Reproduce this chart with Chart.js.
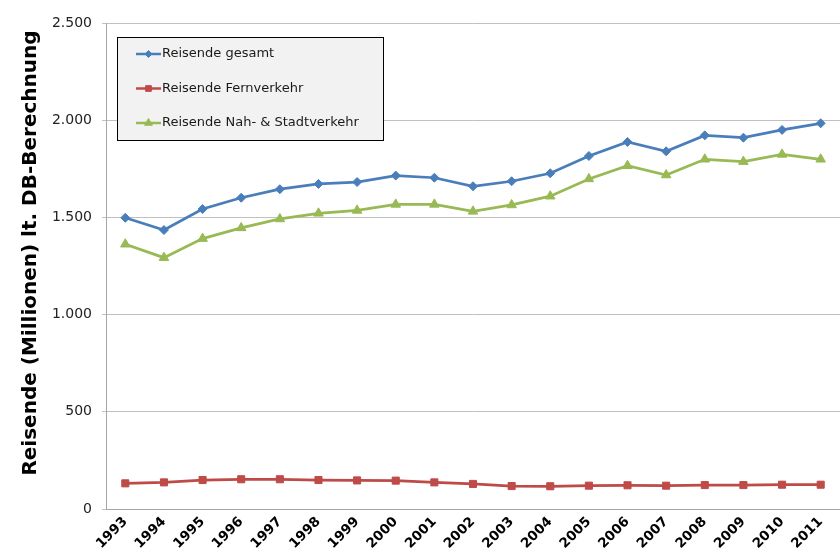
<!DOCTYPE html>
<html>
<head>
<meta charset="utf-8">
<script src="https://cdn.jsdelivr.net/npm/chart.js@4"></script>
<style>
  html, body { margin: 0; padding: 0; background: #fff; }
  #wrap { width: 840px; height: 555px; }
</style>
</head>
<body>
<div id="wrap"><canvas id="chart" width="840" height="555"></canvas></div>
<script>
const YEARS = ['1993','1994','1995','1996','1997','1998','1999','2000','2001','2002',
               '2003','2004','2005','2006','2007','2008','2009','2010','2011'];
const GESAMT = [1498,1435,1543,1601,1645,1672,1682,1715,1704,1660,1686,1727,1816,1888,1840,1922,1910,1950,1984];
const FERN   = [132,137,149,153,153,149,147,146,137,129,118,117,120,122,120,123,123,125,125];
const NAH    = [1362,1293,1391,1446,1492,1521,1536,1567,1567,1531,1564,1609,1698,1766,1718,1799,1787,1824,1799];
const Y_TICKS = [0,500,1000,1500,2000,2500];
const Y_TITLE = 'Reisende (Millionen) lt. DB-Berechnung';

const FONT = 'DejaVu Sans, Verdana, sans-serif';

// german thousands separator
const fmt = v => String(v).replace(/\B(?=(\d{3})+(?!\d))/g, '.');

// legend drawn as a boxed panel inside the plot area, plus the y title
const boxLegend = {
    id: 'boxLegend',
    afterDraw(chart) {
        const ctx = chart.ctx;
        const x = 117, y = 37, w = 266, h = 103;
        ctx.save();
        ctx.fillStyle = '#f2f2f2';
        ctx.fillRect(x, y, w, h);
        ctx.strokeStyle = '#000';
        ctx.lineWidth = 1;
        ctx.strokeRect(x + 0.5, y + 0.5, w, h);
        ctx.font = '13px ' + FONT;
        ctx.textBaseline = 'middle';
        chart.data.datasets.forEach((ds, i) => {
            const cy = 54 + i * 34.5;
            ctx.strokeStyle = ds.borderColor;
            ctx.lineWidth = 2.5;
            ctx.beginPath();
            ctx.moveTo(136, cy); ctx.lineTo(161, cy); ctx.stroke();
            ctx.fillStyle = ds.borderColor;
            ctx.lineWidth = 1;
            Chart.helpers.drawPoint(ctx, {
                pointStyle: ds.pointStyle, radius: ds.pointRadius - 1, rotation: 0, borderWidth: 1
            }, 148.5, cy);
            ctx.fillStyle = '#1a1a1a';
            ctx.fillText(ds.label, 162, cy);
        });

        // y axis title
        ctx.translate(31, 253);
        ctx.rotate(-Math.PI / 2);
        ctx.font = 'bold 20px ' + FONT;
        ctx.textAlign = 'center';
        ctx.fillStyle = '#000';
        ctx.fillText(Y_TITLE, 0, 0);
        ctx.restore();
    }
};

new Chart(document.getElementById('chart'), {
    type: 'line',
    data: {
        labels: YEARS,
        datasets: [
            { label: 'Reisende gesamt', data: GESAMT, borderColor: '#4a7ebb', backgroundColor: '#4a7ebb',
              pointStyle: 'rectRot', pointRadius: 4.5 },
            { label: 'Reisende Fernverkehr', data: FERN, borderColor: '#be4b48', backgroundColor: '#be4b48',
              pointStyle: 'rect', pointRadius: 5 },
            { label: 'Reisende Nah- & Stadtverkehr', data: NAH, borderColor: '#98b954', backgroundColor: '#98b954',
              pointStyle: 'triangle', pointRadius: 5.5 }
        ].map(d => Object.assign(d, { borderWidth: 2.75, tension: 0, pointBorderWidth: 1 }))
    },
    options: {
        responsive: false,
        animation: false,
        layout: { autoPadding: false, padding: { top: 23, right: 0, left: 0, bottom: 0 } },
        plugins: { legend: { display: false }, tooltip: { enabled: false } },
        scales: {
            x: {
                offset: true,
                grid: { display: false, drawTicks: false },
                border: { color: '#a6a6a6', width: 1 },
                ticks: { color: '#000', font: { family: FONT, size: 13.5, weight: 'bold' },
                         maxRotation: 45, minRotation: 45, autoSkip: false, padding: 5 },
                afterFit(axis) { axis.height = 46; axis.paddingLeft = 0; axis.paddingRight = 0; }
            },
            y: {
                min: 0, max: 2500,
                afterBuildTicks(axis) { axis.ticks = Y_TICKS.map(v => ({ value: v })); },
                grid: { color: '#c0c0c0', lineWidth: 1, tickLength: 4, drawTicks: true },
                border: { color: '#a6a6a6', width: 1 },
                ticks: { color: '#222', font: { family: FONT, size: 14 }, padding: 10,
                         callback: v => fmt(v) },
                afterFit(axis) { axis.width = 106; axis.paddingTop = 0; axis.paddingBottom = 0; }
            }
        }
    },
    plugins: [boxLegend]
});
</script>
</body>
</html>
